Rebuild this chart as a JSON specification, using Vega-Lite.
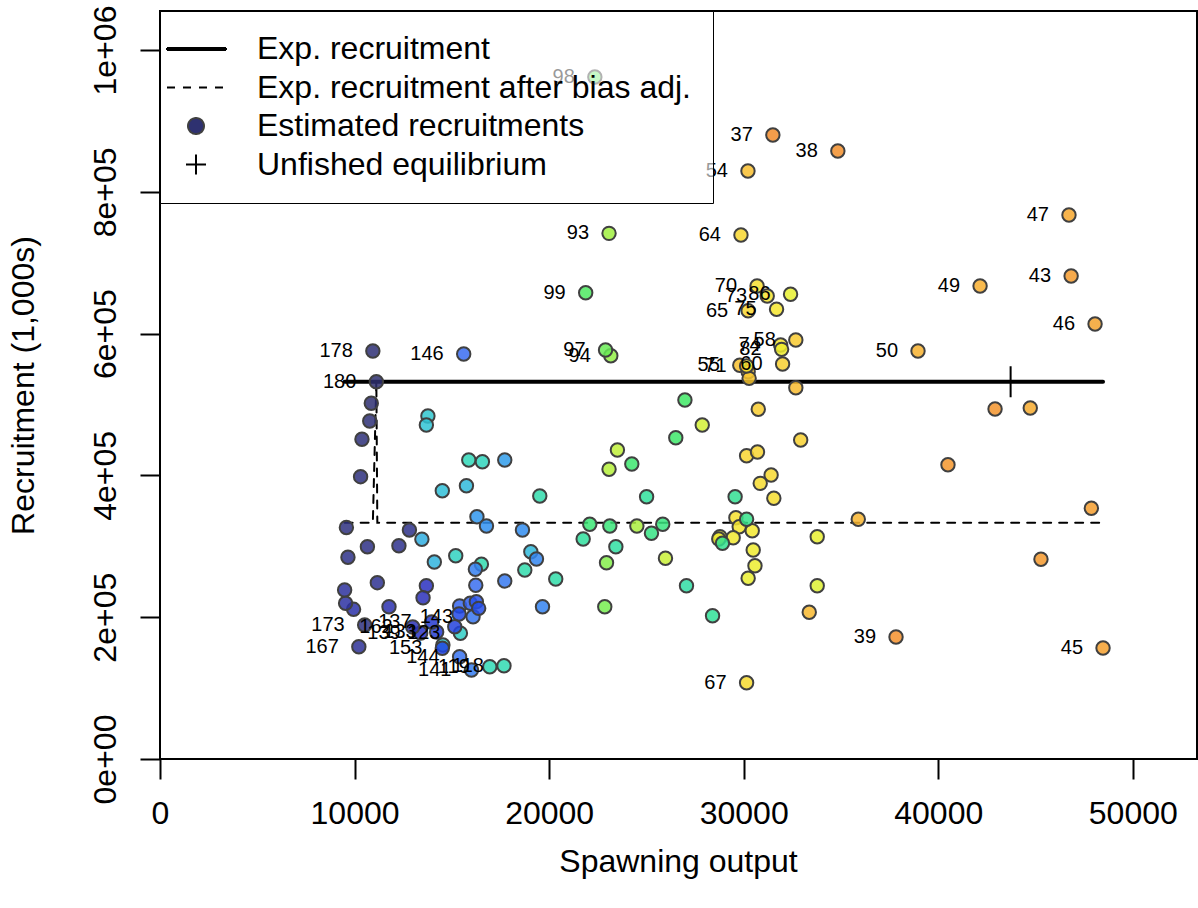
{
  "$schema": "https://vega.github.io/schema/vega-lite/v6.json",
  "width": 1037,
  "height": 748,
  "autosize": {"type": "none"},
  "padding": {"left": 160, "top": 11, "right": 1, "bottom": 149},
  "background": "white",
  "config": {
    "view": {"stroke": "black", "strokeWidth": 2},
    "font": "Liberation Sans",
    "legend": {
      "orient": "top-left", "offset": 0, "padding": 22,
      "labelFont": "Liberation Sans", "labelFontSize": 32, "labelColor": "black", "labelOffset": 43, "labelLimit": 0,
      "symbolSize": 400, "symbolStrokeWidth": 2, "symbolOpacity": 1, "symbolFillColor": "#2E3170",
      "rowPadding": 6.5, "strokeColor": "black", "fillColor": "rgba(255,255,255,0.6)", "cornerRadius": 0
    }
  },
  "datasets": {
    "rec": [
      {"yr": 37, "x": 31500, "y": 880100, "lab": "37"},
      {"yr": 38, "x": 34840, "y": 857500, "lab": "38"},
      {"yr": 39, "x": 37830, "y": 172100, "lab": "39"},
      {"yr": 40, "x": 42920, "y": 493600},
      {"yr": 41, "x": 40500, "y": 415100},
      {"yr": 42, "x": 45280, "y": 281700},
      {"yr": 43, "x": 46830, "y": 681200, "lab": "43"},
      {"yr": 44, "x": 47870, "y": 353600},
      {"yr": 45, "x": 48470, "y": 156600, "lab": "45"},
      {"yr": 46, "x": 48060, "y": 613500, "lab": "46"},
      {"yr": 47, "x": 46720, "y": 767300, "lab": "47"},
      {"yr": 48, "x": 44730, "y": 495100},
      {"yr": 49, "x": 42150, "y": 667100, "lab": "49"},
      {"yr": 50, "x": 38960, "y": 575400, "lab": "50"},
      {"yr": 51, "x": 35890, "y": 338100},
      {"yr": 52, "x": 33370, "y": 206900},
      {"yr": 53, "x": 32680, "y": 523700},
      {"yr": 54, "x": 30220, "y": 829300, "lab": "54"},
      {"yr": 55, "x": 29800, "y": 555300, "lab": "55"},
      {"yr": 56, "x": 30230, "y": 546200},
      {"yr": 57, "x": 30280, "y": 536900},
      {"yr": 58, "x": 32680, "y": 591000, "lab": "58"},
      {"yr": 59, "x": 30750, "y": 493200},
      {"yr": 60, "x": 32000, "y": 557100, "lab": "60"},
      {"yr": 61, "x": 32930, "y": 449900},
      {"yr": 62, "x": 30150, "y": 427800},
      {"yr": 63, "x": 30710, "y": 433000},
      {"yr": 64, "x": 29860, "y": 739100, "lab": "64"},
      {"yr": 65, "x": 30230, "y": 632300, "lab": "65"},
      {"yr": 66, "x": 31410, "y": 400600},
      {"yr": 67, "x": 30150, "y": 107600, "lab": "67"},
      {"yr": 68, "x": 30850, "y": 388800},
      {"yr": 69, "x": 31550, "y": 367700},
      {"yr": 70, "x": 30690, "y": 667100, "lab": "70"},
      {"yr": 71, "x": 30150, "y": 554300, "lab": "71"},
      {"yr": 72, "x": 29600, "y": 340300},
      {"yr": 73, "x": 31210, "y": 653000, "lab": "73"},
      {"yr": 74, "x": 31900, "y": 583900, "lab": "74"},
      {"yr": 75, "x": 31690, "y": 634300, "lab": "75"},
      {"yr": 76, "x": 29770, "y": 327600},
      {"yr": 77, "x": 30440, "y": 322000},
      {"yr": 78, "x": 29460, "y": 312100},
      {"yr": 79, "x": 28780, "y": 313500},
      {"yr": 80, "x": 28720, "y": 310300},
      {"yr": 81, "x": 30490, "y": 294800},
      {"yr": 82, "x": 31950, "y": 577800, "lab": "82"},
      {"yr": 83, "x": 30580, "y": 272600},
      {"yr": 84, "x": 30230, "y": 254900},
      {"yr": 85, "x": 33780, "y": 313500},
      {"yr": 86, "x": 32410, "y": 655400, "lab": "86"},
      {"yr": 87, "x": 33780, "y": 244400},
      {"yr": 88, "x": 27870, "y": 471100},
      {"yr": 89, "x": 25980, "y": 283100},
      {"yr": 90, "x": 23510, "y": 435800},
      {"yr": 91, "x": 23080, "y": 408600},
      {"yr": 92, "x": 24510, "y": 328600},
      {"yr": 93, "x": 23080, "y": 741400, "lab": "93"},
      {"yr": 94, "x": 23170, "y": 568800, "lab": "94"},
      {"yr": 95, "x": 22950, "y": 276900},
      {"yr": 96, "x": 22860, "y": 214800},
      {"yr": 97, "x": 22900, "y": 576900, "lab": "97"},
      {"yr": 98, "x": 22350, "y": 961900, "lab": "98"},
      {"yr": 99, "x": 21880, "y": 657700, "lab": "99"},
      {"yr": 100, "x": 26980, "y": 506300},
      {"yr": 101, "x": 26510, "y": 453200},
      {"yr": 102, "x": 24250, "y": 416100},
      {"yr": 103, "x": 22090, "y": 331000},
      {"yr": 104, "x": 23120, "y": 328600},
      {"yr": 105, "x": 25840, "y": 331000},
      {"yr": 106, "x": 25260, "y": 318300},
      {"yr": 107, "x": 30150, "y": 338100},
      {"yr": 108, "x": 28910, "y": 304200},
      {"yr": 109, "x": 29560, "y": 369900},
      {"yr": 110, "x": 28400, "y": 202100},
      {"yr": 111, "x": 25010, "y": 369900},
      {"yr": 112, "x": 21750, "y": 310300},
      {"yr": 113, "x": 23430, "y": 299400},
      {"yr": 114, "x": 27060, "y": 244400},
      {"yr": 115, "x": 20340, "y": 253900},
      {"yr": 116, "x": 19520, "y": 370900},
      {"yr": 116, "x": 18750, "y": 266600},
      {"yr": 117, "x": 16520, "y": 274600},
      {"yr": 118, "x": 17680, "y": 131600, "lab": "118"},
      {"yr": 119, "x": 16950, "y": 130200, "lab": "119"},
      {"yr": 120, "x": 15870, "y": 421700},
      {"yr": 121, "x": 16570, "y": 419300},
      {"yr": 122, "x": 15200, "y": 286700},
      {"yr": 123, "x": 15440, "y": 177300, "lab": "123"},
      {"yr": 124, "x": 14540, "y": 160800},
      {"yr": 125, "x": 13770, "y": 483800},
      {"yr": 126, "x": 13690, "y": 471100},
      {"yr": 127, "x": 14510, "y": 378400},
      {"yr": 128, "x": 15750, "y": 385500},
      {"yr": 128, "x": 19060, "y": 292400},
      {"yr": 129, "x": 14100, "y": 277800},
      {"yr": 130, "x": 13460, "y": 309900},
      {"yr": 133, "x": 17720, "y": 421700},
      {"yr": 134, "x": 16290, "y": 341700},
      {"yr": 135, "x": 16780, "y": 328600},
      {"yr": 136, "x": 18630, "y": 323000},
      {"yr": 138, "x": 19350, "y": 282100},
      {"yr": 139, "x": 19660, "y": 214800},
      {"yr": 140, "x": 16210, "y": 267600},
      {"yr": 141, "x": 16010, "y": 125500, "lab": "141"},
      {"yr": 142, "x": 17720, "y": 251100},
      {"yr": 143, "x": 16090, "y": 200700, "lab": "143"},
      {"yr": 144, "x": 15400, "y": 144300, "lab": "144"},
      {"yr": 145, "x": 16230, "y": 245000},
      {"yr": 146, "x": 15610, "y": 571200, "lab": "146"},
      {"yr": 147, "x": 15400, "y": 215800},
      {"yr": 148, "x": 15950, "y": 219600},
      {"yr": 150, "x": 16260, "y": 221900},
      {"yr": 151, "x": 16380, "y": 212500},
      {"yr": 152, "x": 15370, "y": 204500},
      {"yr": 153, "x": 14510, "y": 156100, "lab": "153"},
      {"yr": 154, "x": 15150, "y": 186600},
      {"yr": 156, "x": 14220, "y": 179100, "lab": "133"},
      {"yr": 157, "x": 13960, "y": 193200, "lab": "137"},
      {"yr": 159, "x": 13400, "y": 177700, "lab": "139"},
      {"yr": 160, "x": 13690, "y": 244400},
      {"yr": 161, "x": 13520, "y": 227500},
      {"yr": 162, "x": 12990, "y": 186200, "lab": "162"},
      {"yr": 163, "x": 11770, "y": 214800},
      {"yr": 164, "x": 9950, "y": 211100},
      {"yr": 165, "x": 9540, "y": 219600},
      {"yr": 166, "x": 9490, "y": 238400},
      {"yr": 167, "x": 10220, "y": 158400, "lab": "167"},
      {"yr": 168, "x": 11170, "y": 248700},
      {"yr": 169, "x": 12280, "y": 300800},
      {"yr": 170, "x": 12820, "y": 323000},
      {"yr": 171, "x": 9660, "y": 284500},
      {"yr": 172, "x": 10660, "y": 299400},
      {"yr": 173, "x": 10520, "y": 189000, "lab": "173"},
      {"yr": 174, "x": 9580, "y": 326500},
      {"yr": 175, "x": 10310, "y": 398200},
      {"yr": 176, "x": 10380, "y": 450900},
      {"yr": 177, "x": 10780, "y": 476700},
      {"yr": 178, "x": 10940, "y": 575400, "lab": "178"},
      {"yr": 179, "x": 10860, "y": 501700},
      {"yr": 180, "x": 11120, "y": 532100, "lab": "180"}
    ],
    "lines": [
      {"kind": "exp", "o": 1, "x": 9490, "y": 532100},
      {"kind": "exp", "o": 2, "x": 48470, "y": 532100},
      {"kind": "adj", "o": 1, "x": 9490, "y": 333300},
      {"kind": "adj", "o": 2, "x": 10940, "y": 333300},
      {"kind": "adj", "o": 3, "x": 11120, "y": 532100},
      {"kind": "adj", "o": 4, "x": 11170, "y": 333300},
      {"kind": "adj", "o": 5, "x": 48470, "y": 333300}
    ],
    "unfished": [{"x": 43720, "y": 532100}],
    "legendItems": [
      {"item": "Exp. recruitment"},
      {"item": "Exp. recruitment after bias adj."},
      {"item": "Estimated recruitments"},
      {"item": "Unfished equilibrium"}
    ]
  },
  "layer": [
    {
      "data": {"name": "lines"},
      "transform": [{"filter": "datum.kind === 'exp'"}],
      "mark": {"type": "line", "color": "black", "strokeWidth": 4, "strokeCap": "round"},
      "encoding": {
        "x": {"field": "x", "type": "quantitative", "scale": {"domain": [0, 53300], "nice": false, "zero": false},
          "axis": {
            "values": [0, 10000, 20000, 30000, 40000, 50000], "format": "d",
            "domain": false, "grid": false, "tickSize": 20, "tickWidth": 2, "tickColor": "black",
            "labelFont": "Liberation Sans", "labelFontSize": 32, "labelColor": "black",
            "labelBaseline": "alphabetic", "labelAlign": "center", "labelPadding": 44,
            "labelFlush": false, "labelOverlap": false,
            "title": "Spawning output", "titleFont": "Liberation Sans", "titleFontSize": 32,
            "titleFontWeight": "normal", "titleColor": "black", "titleX": 518, "titleY": 112,
            "titleBaseline": "alphabetic", "titleAlign": "center"
          }},
        "y": {"field": "y", "type": "quantitative", "scale": {"domain": [0, 1055000], "nice": false, "zero": false},
          "axis": {
            "values": [0, 200000, 400000, 600000, 800000, 1000000],
            "labelExpr": "datum.value == 0 ? '0e+00' : (datum.value >= 1000000 ? '1e+06' : format(datum.value / 100000, 'd') + 'e+05')",
            "domain": false, "grid": false, "tickSize": 20, "tickWidth": 2, "tickColor": "black",
            "labelFont": "Liberation Sans", "labelFontSize": 32, "labelColor": "black",
            "labelAngle": 270, "labelAlign": "center", "labelBaseline": "alphabetic", "labelPadding": 25,
            "labelFlush": false, "labelOverlap": false,
            "title": "Recruitment (1,000s)", "titleFont": "Liberation Sans", "titleFontSize": 32,
            "titleFontWeight": "normal", "titleColor": "black", "titleAngle": 270,
            "titleX": -127, "titleY": 374, "titleBaseline": "alphabetic", "titleAlign": "center"
          }},
        "order": {"field": "o", "type": "quantitative"}
      }
    },
    {
      "data": {"name": "lines"},
      "transform": [{"filter": "datum.kind === 'adj'"}],
      "mark": {"type": "line", "color": "black", "strokeWidth": 2, "strokeDash": [8, 8], "strokeCap": "round"},
      "encoding": {
        "x": {"field": "x", "type": "quantitative"},
        "y": {"field": "y", "type": "quantitative"},
        "order": {"field": "o", "type": "quantitative"}
      }
    },
    {
      "data": {"name": "rec"},
      "mark": {"type": "point", "filled": true, "size": 180, "stroke": "#404040", "strokeWidth": 2, "fillOpacity": 0.85, "strokeOpacity": 1},
      "encoding": {
        "x": {"field": "x", "type": "quantitative"},
        "y": {"field": "y", "type": "quantitative"},
        "fill": {"field": "yr", "type": "quantitative", "legend": null,
          "scale": {"type": "linear", "interpolate": "rgb",
            "domain": [37, 45, 52, 60, 75, 86, 93, 100, 110, 120, 127, 135, 146, 152, 160, 168, 180],
            "range": ["#F28C2C", "#F5A02E", "#F8B82F", "#F8D030", "#F5E52E", "#E8F030", "#A0F040", "#40E865", "#30E098", "#30D8B8", "#30C0D8", "#3090F0", "#3A6CF0", "#2048E8", "#2A30C0", "#2E3190", "#2E2F6E"]}}
      }
    },
    {
      "data": {"name": "rec"},
      "transform": [{"filter": "datum.lab != null"}],
      "mark": {"type": "text", "align": "right", "baseline": "middle", "dx": -20, "font": "Liberation Sans", "fontSize": 20, "color": "black"},
      "encoding": {
        "x": {"field": "x", "type": "quantitative"},
        "y": {"field": "y", "type": "quantitative"},
        "text": {"field": "lab", "type": "nominal"}
      }
    },
    {
      "data": {"name": "unfished"},
      "mark": {"type": "point", "shape": "M-1,0H1M0,-1V1", "size": 961, "filled": false, "stroke": "black", "strokeWidth": 2, "opacity": 1},
      "encoding": {
        "x": {"field": "x", "type": "quantitative"},
        "y": {"field": "y", "type": "quantitative"}
      }
    },
    {
      "data": {"name": "legendItems"},
      "mark": {"type": "point", "filled": true, "fill": "#2E3170", "opacity": 0, "size": 400, "strokeWidth": 2},
      "encoding": {
        "shape": {"field": "item", "type": "nominal", "legend": {"title": null},
          "scale": {
            "domain": ["Exp. recruitment", "Exp. recruitment after bias adj.", "Estimated recruitments", "Unfished equilibrium"],
            "range": ["M-3.1,-0.1H2.8V0.1H-3.1Z", "M-3.1,0H2.8", "M-1,0A0.8,0.8,0,1,0,0.6,0A0.8,0.8,0,1,0,-1,0Z", "M-1.2,0H0.8M-0.2,-1V1"]
          }},
        "stroke": {"field": "item", "type": "nominal", "legend": {"title": null},
          "scale": {
            "domain": ["Exp. recruitment", "Exp. recruitment after bias adj.", "Estimated recruitments", "Unfished equilibrium"],
            "range": ["black", "black", "#404040", "black"]
          }},
        "strokeDash": {"field": "item", "type": "nominal", "legend": {"title": null},
          "scale": {
            "domain": ["Exp. recruitment", "Exp. recruitment after bias adj.", "Estimated recruitments", "Unfished equilibrium"],
            "range": [[1, 0], [8, 8], [1, 0], [1, 0]]
          }}
      }
    }
  ]
}
